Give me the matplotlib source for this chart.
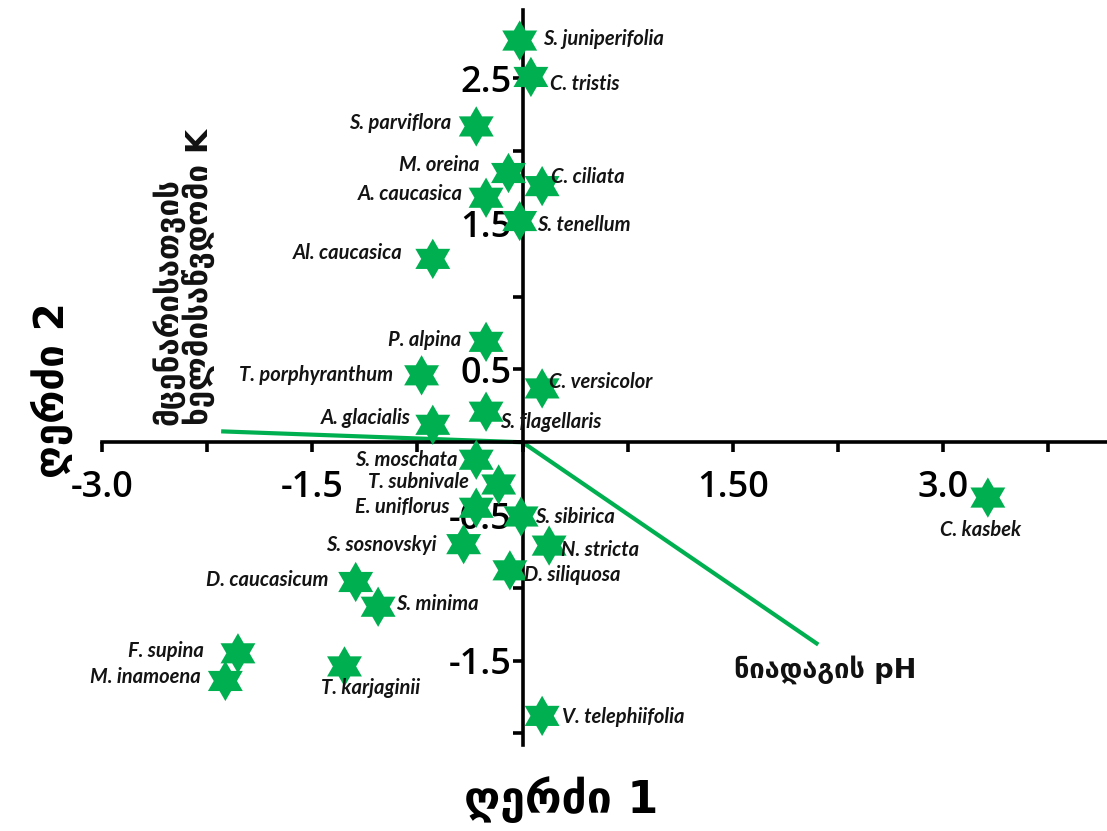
import numpy as np
import matplotlib
matplotlib.use('Agg')
import matplotlib.pyplot as plt

plt.rcParams['font.family'] = ['Lato', 'DejaVu Sans']

# species scores on the two ordination axes
species = ['S. juniperifolia', 'C. tristis', 'S. parviflora', 'M. oreina', 'C. ciliata',
           'A. caucasica', 'S. tenellum', 'Al. caucasica', 'P. alpina', 'T. porphyranthum',
           'C. versicolor', 'S. flagellaris', 'A. glacialis', 'S. moschata', 'T. subnivale',
           'E. uniflorus', 'S. sibirica', 'N. stricta', 'S. sosnovskyi', 'D. siliquosa',
           'D. caucasicum', 'S. minima', 'F. supina', 'M. inamoena', 'T. karjaginii',
           'V. telephiifolia', 'C. kasbek']
axis1 = [-0.02, 0.06, -0.33, -0.10, 0.14,
         -0.26, -0.02, -0.64, -0.26, -0.72,
         0.14, -0.26, -0.64, -0.33, -0.17,
         -0.33, -0.01, 0.19, -0.42, -0.09,
         -1.19, -1.03, -2.03, -2.12, -1.27,
         0.14, 3.32]
axis2 = [2.76, 2.51, 2.17, 1.85, 1.76,
         1.68, 1.52, 1.26, 0.69, 0.46,
         0.37, 0.21, 0.12, -0.12, -0.29,
         -0.45, -0.51, -0.71, -0.70, -0.88,
         -0.96, -1.13, -1.45, -1.64, -1.54,
         -1.88, -0.38]

# environmental vectors
vec_names = ['მცენარისათვის\nხელმისაწვდომი K', 'ნიადაგის pH']
vec_x = [-2.15, 2.11]
vec_y = [0.075, -1.39]

xticks = [-3.0, -2.25, -1.5, -0.75, 0.0, 0.75, 1.5, 2.25, 3.0, 3.75]
xticklabels = ['-3.0', '', '-1.5', '', '', '', '1.50', '', '3.0', '']
yticks = [-2.0, -1.5, -1.0, -0.5, 0.0, 0.5, 1.0, 1.5, 2.0, 2.5]
yticklabels = ['', '-1.5', '', '-0.5', '', '0.5', '', '1.5', '', '2.5']

# label placement (pixel offsets from the point, alignment)
label_pos = [(23, 2, 'left'), (19, -7, 'left'), (-25, 3, 'right'), (-29, 8, 'right'), (9, 9, 'left'),
             (-23, 4, 'right'), (17, -4, 'left'), (-30, 6, 'right'), (-25, 2, 'right'), (-28, 0, 'right'),
             (7, 6, 'left'), (14, -10, 'left'), (-22, 7, 'right'), (-19, 0, 'right'), (-30, 2, 'right'),
             (-27, 1, 'right'), (14, -1, 'left'), (12, -4, 'left'), (-27, -1, 'right'), (14, -5, 'left'),
             (-27, 2, 'right'), (18, 3, 'left'), (-34, 2, 'right'), (-25, 4, 'right'), (-23, -22, 'left'),
             (20, -1, 'left'), (-7, -32, 'center')]

green = '#00B050'

# six-pointed star marker
ang = np.deg2rad(np.arange(90, -270, -30))
rad = np.where(np.arange(12) % 2 == 0, 1.0, 1 / np.sqrt(3))
star = list(zip(rad * np.cos(ang), rad * np.sin(ang)))

fig = plt.figure(figsize=(11.07, 8.31), dpi=100)
ax = fig.add_axes([102 / 1107, 86 / 831, 1005 / 1107, 735 / 831])
ax.set_xlim(-3.0, 4.17)
ax.set_ylim(-2.08, 2.97)

for s in ['top', 'right']:
    ax.spines[s].set_visible(False)
for s in ['left', 'bottom']:
    ax.spines[s].set_position(('data', 0))
    ax.spines[s].set_linewidth(2.6)
    ax.spines[s].set_zorder(2)

ax.set_xticks(xticks)
ax.set_xticklabels(xticklabels)
ax.set_yticks(yticks)
ax.set_yticklabels(yticklabels)
ax.tick_params(axis='x', direction='out', length=7, width=2.6, pad=13, labelsize=26)
ax.tick_params(axis='y', direction='out', length=7, width=2.6, pad=1, labelsize=26)
for lab in ax.get_xticklabels() + ax.get_yticklabels():
    lab.set_family(['Open Sans', 'DejaVu Sans'])
    lab.set_fontweight('semibold')

# vectors
for vx, vy in zip(vec_x, vec_y):
    ax.plot([0, vx], [0, vy], color=green, lw=3, zorder=1.5, solid_capstyle='butt')

ax.text(vec_x[0] - 0.27, 0.12, vec_names[0], rotation=90, ha='center', va='bottom',
        multialignment='left', fontsize=22.5, fontweight='bold', family=['DejaVu Sans'],
        linespacing=0.9, color='#111111')
ax.text(vec_x[1] + 0.05, vec_y[1] - 0.17, vec_names[1], ha='center', va='center',
        fontsize=19.5, fontweight='bold', family=['DejaVu Sans'], color='#111111')

ax.scatter(axis1, axis2, marker=star, s=29 ** 2, color=green, edgecolors='none', zorder=4)

for name, x, y, (dx, dy, ha) in zip(species, axis1, axis2, label_pos):
    ax.annotate(name, (x, y), xytext=(dx, dy), textcoords='offset pixels',
                ha=ha, va='center', fontsize=14.5, fontweight='bold', fontstyle='italic',
                color='#141414', zorder=5)

fig.text(561 / 1107, 1 - 800 / 831, 'ღერძი 1', ha='center', va='center', fontsize=32,
         family=['DejaVu Sans'], fontweight='bold')
fig.text(52 / 1107, 1 - 390 / 831, 'ღერძი 2', ha='center', va='center', fontsize=29,
         family=['DejaVu Sans'], fontweight='bold', rotation=90)

fig.savefig('out.png', dpi=100)
